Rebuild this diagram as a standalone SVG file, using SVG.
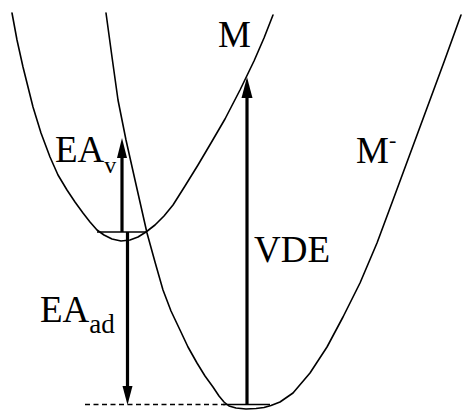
<svg xmlns="http://www.w3.org/2000/svg" width="462" height="410" viewBox="0 0 462 410">
<style>
.curve{fill:none;stroke:#000;stroke-width:1.6;stroke-linejoin:round;stroke-linecap:round}
.level{fill:none;stroke:#000;stroke-width:1.4}
.dash{fill:none;stroke:#000;stroke-width:1.3;stroke-dasharray:5 3.5}
.shaft{fill:none;stroke:#000;stroke-width:3.2}
.head{fill:#000;stroke:none}
.lbl{font-family:"Liberation Serif","Times New Roman",serif;font-size:37px;fill:#000}
</style>
<rect width="462" height="410" fill="#fff"/>
<g id="curve-M">
<path class="curve" d="M12,13 L17,40 L23,67 L33,107 L41,133 L50,157 L58,175 L67,190 L75,202 L83,213 L90,222 L97,230 L104,235 L112,239 L121,241 L130,240 L138,237 L146,232 L155,225 L164,216 L173,205 L185,186 L198,165 L211,143 L225,119 L240,90 L254,61 L264,38 L273,15"/>
<line class="level" x1="97" y1="232" x2="146" y2="232"/>
</g>
<g id="curve-Mminus">
<path class="curve" d="M106,13 L112,57 L118,100 L126,140 L135,180 L147,233 L155,262 L163,290 L171,311 L180,330 L188,347 L197,363 L205,376 L213,387 L219,396 L224,402 L229,406 L236,408 L246,409 L256,408.5 L264,407.5 L271,405.5 L280,402 L293,393 L310,373 L327,347 L343,317 L360,283 L377,243 L393,200 L410,154 L427,108 L444,62 L461,15"/>
<line class="level" x1="223" y1="404.5" x2="270" y2="404.5"/>
</g>
<g id="connectors">
<line class="dash" x1="85" y1="404.5" x2="225" y2="404.5"/>
<g id="arrow-EAv">
<line class="shaft" x1="122" y1="232" x2="122" y2="152"/>
<polygon class="head" points="122,138 127,158 117,158"/>
</g>
<g id="arrow-EAad">
<line class="shaft" x1="127.5" y1="232" x2="127.5" y2="390"/>
<polygon class="head" points="127.5,405 122.5,386 132.5,386"/>
</g>
<g id="arrow-VDE">
<line class="shaft" x1="247" y1="404" x2="247" y2="94"/>
<polygon class="head" points="247,77 252.5,98 241.5,98"/>
</g>
</g>
<g id="labels">
<text id="lbl-M" class="lbl" x="218" y="47">M</text>
<text id="lbl-Mminus" class="lbl" x="356" y="163">M<tspan font-size="22" dy="-16">-</tspan></text>
<text id="lbl-EAv" class="lbl" x="55" y="162">EA<tspan font-size="24" dy="11">v</tspan></text>
<text id="lbl-EAad" class="lbl" x="40" y="322">EA<tspan font-size="27" dy="11">ad</tspan></text>
<text id="lbl-VDE" class="lbl" x="254" y="262">VDE</text>
</g>
</svg>
